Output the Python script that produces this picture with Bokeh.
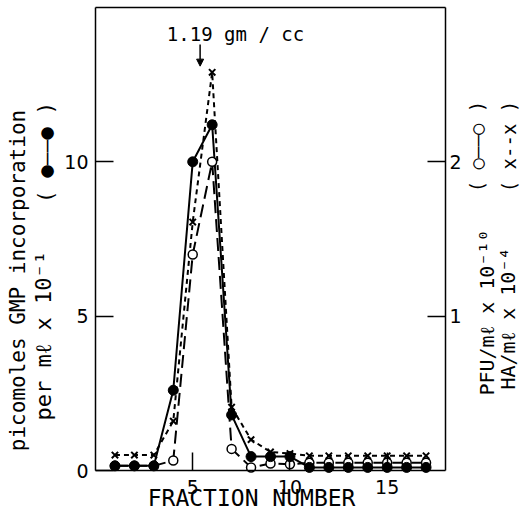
import math
from bokeh.plotting import figure
from bokeh.models import Range1d, LinearAxis, FixedTicker, Label, Arrow, NormalHead, ColumnDataSource
from bokeh.embed import file_html
from bokeh.resources import INLINE

# ---- data ----
fraction = list(range(1, 18))
gmp = [0.15, 0.15, 0.15, 2.6, 10.0, 11.2, 1.8, 0.45, 0.45, 0.45, 0.1, 0.1, 0.1, 0.1, 0.1, 0.1, 0.1]  # left axis
pfu = [0.03, 0.03, 0.03, 0.065, 1.4, 2.0, 0.14, 0.02, 0.045, 0.04, 0.05, 0.05, 0.05, 0.05, 0.05, 0.05, 0.05]  # right axis
ha = [0.1, 0.1, 0.1, 0.32, 1.61, 2.58, 0.41, 0.2, 0.12, 0.11, 0.095, 0.095, 0.095, 0.095, 0.095, 0.095, 0.095]  # right axis

x_ticks = [5, 10, 15]
left_ticks = [0, 5, 10]
right_ticks = [1, 2]
X_MAX, Y_MAX, R_MAX = 18, 15, 3
peak_fraction = 5.38
arrow_top, arrow_bottom = 13.8, 13.1

FONT = "DejaVu Sans Mono"
TICKFONT = "DejaVu Sans"

# ---- layout: the plotting box inside a full-canvas frame ----
W, H = 520, 524
BOX_L, BOX_R, BOX_T, BOX_B = 95, 445, 7, 470
xs = (BOX_R - BOX_L) / X_MAX
ys = (BOX_B - BOX_T) / Y_MAX
x_range = Range1d(-BOX_L / xs, X_MAX + (W - BOX_R) / xs)
y_range = Range1d(-(H - BOX_B) / ys, Y_MAX + BOX_T / ys)
k = R_MAX / Y_MAX
right_range = Range1d(y_range.start * k, y_range.end * k)

src = ColumnDataSource(dict(x=fraction, gmp=gmp, pfu=pfu, ha=ha))

p = figure(width=W, height=H, x_range=x_range, y_range=y_range,
           output_backend="svg", toolbar_location=None,
           min_border_left=0, min_border_right=0, min_border_top=0, min_border_bottom=0)
p.extra_y_ranges = {"right": right_range}
p.grid.visible = False
p.outline_line_color = None
p.background_fill_color = "white"
p.border_fill_color = "white"

# axes drawn at fixed locations (the box)
bottom_axis = p.below[0]
left_axis = p.left[0]
bottom_axis.fixed_location = 0
bottom_axis.bounds = (0, X_MAX)
bottom_axis.ticker = FixedTicker(ticks=x_ticks)
left_axis.fixed_location = 0
left_axis.bounds = (0, Y_MAX)
left_axis.ticker = FixedTicker(ticks=left_ticks)
right_axis = LinearAxis(y_range_name="right", fixed_location=X_MAX, bounds=(0, R_MAX),
                        ticker=FixedTicker(ticks=right_ticks))
p.add_layout(right_axis, "right")
top_axis = LinearAxis(fixed_location=Y_MAX, bounds=(0, X_MAX), ticker=FixedTicker(ticks=[]),
                      major_label_text_font_size="0px")
p.add_layout(top_axis, "above")
for ax in [bottom_axis, left_axis, right_axis, top_axis]:
    ax.axis_line_color = "black"
    ax.axis_line_width = 1.5
    ax.major_tick_in = 18
    ax.major_tick_out = 0
    ax.major_tick_line_width = 1.5
    ax.minor_tick_line_color = None
    ax.major_label_text_font = TICKFONT
    ax.major_label_text_color = "black"
for ax in [bottom_axis, left_axis, right_axis]:
    ax.major_label_text_font_size = "19px"
bottom_axis.major_label_standoff = 9
left_axis.major_label_standoff = 7
right_axis.major_label_standoff = 4

# series
p.line("x", "pfu", source=src, y_range_name="right", line_color="black", line_width=2, line_dash="13 6")
p.line("x", "ha", source=src, y_range_name="right", line_color="black", line_width=2, line_dash="5 4")
p.line("x", "gmp", source=src, line_color="black", line_width=2)
p.scatter("x", "pfu", source=src, y_range_name="right", marker="circle", size=9,
          fill_color="white", line_color="black", line_width=1.5)
p.scatter("x", "ha", source=src, y_range_name="right", marker="x", size=9,
          line_color="black", line_width=2)
p.scatter("x", "gmp", source=src, marker="circle", size=10, fill_color="black", line_color="black")

# annotation
p.add_layout(Arrow(end=NormalHead(size=7, fill_color="black", line_color="black"),
                   x_start=peak_fraction, y_start=arrow_top, x_end=peak_fraction, y_end=arrow_bottom,
                   line_color="black", line_width=1.5))

# texts: centre at (page x, page y) from the top-left corner
def lab(text, px, py, angle=0.0, size="19px"):
    p.add_layout(Label(x=px, y=H - py, x_units="screen", y_units="screen", text=text, angle=angle,
                       text_font=FONT, text_font_size=size, text_align="center",
                       text_baseline="middle", text_color="black"))

UP = math.pi / 2
lab("1.19 gm / cc", 235, 33)
lab("FRACTION  NUMBER", 258, 497, size="23px")
lab("picomoles GMP incorporation", 17, 280, angle=UP, size="21px")
lab("per mℓ  x  10⁻¹", 43, 322, angle=UP, size="22px")
lab("( ●——● )", 45, 152, angle=UP, size="21px")
lab("PFU/mℓ  x  10⁻¹⁰", 486, 300, angle=UP, size="20px")
lab("HA/mℓ  x  10⁻⁴", 507, 306, angle=UP, size="20px")
lab("( ○——○ )", 476, 146, angle=UP, size="19px")
lab("( x--x )", 508, 146, angle=UP, size="19px")

open("out.html", "w").write(file_html(p, INLINE))
